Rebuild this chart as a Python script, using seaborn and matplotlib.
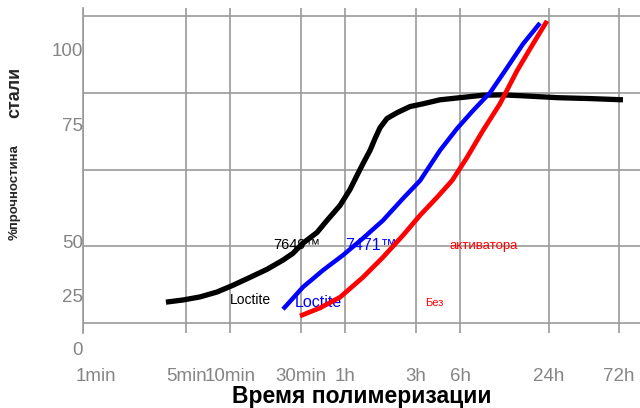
import matplotlib
matplotlib.use("Agg")
import matplotlib.pyplot as plt
import matplotlib.transforms as mtransforms
import seaborn as sns
import pandas as pd

# ---- data (time in minutes, strength in %) ----
black_t = [3.65, 4.76, 6.21, 8.1, 10.4, 13.6, 17.7, 22.7, 26.5, 31.0, 38.6, 45.1, 55.3, 64.6, 72.1,
           79.1, 88.3, 95.5, 103.2, 115, 134.6, 164.8, 202, 263, 377, 515, 700, 962, 1636, 2737, 4580]
black_v = [6.8, 7.5, 8.5, 10.1, 12.3, 14.9, 17.5, 20.5, 22.7, 26.0, 29.5, 33.4, 38.3, 43.5, 48.1,
           51.9, 56.2, 60.1, 63.6, 66.6, 68.5, 70.5, 71.4, 72.7, 73.5, 74.2, 74.3, 74.0, 73.4, 73.1, 72.7]

blue_t = [22.7, 31.0, 42.4, 57.9, 79.1, 108, 148, 193, 263, 343, 441, 575, 749, 962, 1254]
blue_v = [4.5, 11.7, 17.2, 22.1, 27.6, 33.4, 40.6, 46.4, 56.2, 63.3, 69.2, 75.0, 83.1, 90.9, 97.7]

red_t = [29.6, 40.4, 55.3, 79.1, 108, 148, 193, 251, 318, 401, 515, 671, 875, 1124, 1400]
red_v = [2.3, 4.9, 8.4, 14.9, 21.4, 28.6, 35.1, 40.9, 46.4, 53.9, 62.7, 71.4, 82.1, 90.9, 98.4]

x_tick_values = [1, 5, 10, 30, 60, 180, 360, 1440, 4320]
x_tick_labels = ["1min", "5min", "10min", "30min", "1h", "3h", "6h", "24h", "72h"]
grid_y = [0, 25, 50, 75, 100]
y_label_values = [88.3, 64.0, 26.0, 8.4, -9.1]
y_label_texts = ["100", "75", "50", "25", "0"]

sns.set_style("white")
plt.rcParams["font.family"] = ["Liberation Sans", "DejaVu Sans"]

W, H = 640, 408
fig = plt.figure(figsize=(W / 100, H / 100), dpi=100)
ax = fig.add_axes([83 / W, (H - 333) / H, (640 - 83) / W, 325 / H])

gray = "#9a9a9a"
tick_gray = "#858585"

frames = []
for name, t, v in [("black", black_t, black_v), ("blue", blue_t, blue_v), ("red", red_t, red_v)]:
    frames.append(pd.DataFrame({"t": t, "v": v, "s": name}))
df = pd.concat(frames, ignore_index=True)

widths = {"black": 3.8, "blue": 3.2, "red": 3.4}
for name, sub in df.groupby("s", sort=False):
    sns.lineplot(data=sub, x="t", y="v", color=name, lw=widths[name], ax=ax,
                 sort=False, zorder=4, legend=False, solid_capstyle="butt",
                 solid_joinstyle="round")

ax.set_xscale("log")
ax.set_xlim(1, 5975)
ax.set_ylim(-3.25, 102.6)

# grid
ax.set_xticks(x_tick_values)
ax.set_xticks([], minor=True)
ax.set_xticklabels(x_tick_labels)
ax.set_yticks(grid_y)
ax.set_yticklabels([""] * len(grid_y))
ax.grid(True, which="major", axis="both", color=gray, lw=1.2)
ax.tick_params(axis="x", length=0, pad=25, labelsize=13.5, labelcolor=tick_gray)
ax.tick_params(axis="y", length=6, width=1.2, color=gray, direction="out", pad=0)
for side in ["top", "right", "bottom"]:
    ax.spines[side].set_visible(False)
ax.spines["left"].set_color(gray)
ax.spines["left"].set_linewidth(1.2)
ax.set_axisbelow(True)

# shift first x tick label so it stays inside the picture
labels = ax.get_xticklabels()
labels[0].set_transform(labels[0].get_transform() + mtransforms.ScaledTranslation(13 / 100, 0, fig.dpi_scale_trans))

# y tick labels (placed independently of grid)
ytrans = mtransforms.blended_transform_factory(ax.transAxes, ax.transData)
for v, s in zip(y_label_values, y_label_texts):
    ax.text(0.0, v, s, transform=ytrans, ha="right", va="center", fontsize=13.5,
            color=tick_gray, clip_on=False)

# annotations
ax.text(19.4, 25.3, "7649™", color="black", fontsize=10.5, ha="left", va="center", zorder=2)
ax.text(9.9, 7.5, "Loctite", color="black", fontsize=10, ha="left", va="center", zorder=2)
ax.text(60, 25.3, "7471™", color="blue", fontsize=11.5, ha="left", va="center", zorder=2)
ax.text(27.4, 6.6, "Loctite", color="blue", fontsize=11.5, ha="left", va="center", zorder=2)
ax.text(303, 25, "активатора", color="red", fontsize=9.5, ha="left", va="center", zorder=2)
ax.text(208, 6.5, "Без", color="red", fontsize=8, ha="left", va="center", zorder=2)

# axis labels
ax.set_xlabel("Время полимеризации", fontsize=16.5, fontweight="bold", color="black")
ax.xaxis.set_label_coords(0.5, (333 - 396) / 325)
ax.xaxis.label.set_va("center")
ax.set_ylabel("")
fig.text(15 / W, 1 - 92 / H, "стали", rotation=90, fontsize=13, fontweight="bold",
         ha="center", va="center")
fig.text(15 / W, 1 - 192 / H, "%прочностина", rotation=90, fontsize=9.5, fontweight="bold",
         ha="center", va="center")

fig.savefig("out.png", dpi=100)
